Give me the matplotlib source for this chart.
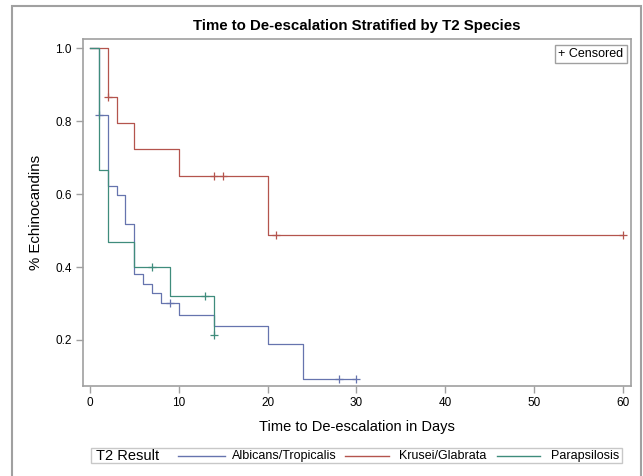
import numpy as np
import matplotlib
matplotlib.use('Agg')
import matplotlib.pyplot as plt
from matplotlib.patches import Rectangle
from matplotlib.lines import Line2D

plt.rcParams['font.family'] = ['Liberation Sans', 'DejaVu Sans']

# --- data ---
groups = ['Albicans/Tropicalis', 'Krusei/Glabrata', 'Parapsilosis']
colors = ['#6674ae', '#b4544d', '#3f8c7c']

alb_t = [0, 1, 2, 3, 4, 5, 6, 7, 8, 10, 14, 20, 24, 30]
alb_s = [1.0, 0.818, 0.623, 0.598, 0.518, 0.381, 0.354, 0.328, 0.301, 0.269, 0.237, 0.189, 0.094, 0.094]
alb_ct = [1, 9, 28, 30]
alb_cs = [0.818, 0.301, 0.094, 0.094]

kru_t = [0, 2, 3, 5, 10, 20, 60]
kru_s = [1.0, 0.867, 0.794, 0.723, 0.651, 0.487, 0.487]
kru_ct = [2, 14, 15, 21, 60]
kru_cs = [0.867, 0.651, 0.651, 0.487, 0.487]

par_t = [0, 1, 2, 5, 9, 14]
par_s = [1.0, 0.666, 0.468, 0.400, 0.320, 0.213]
par_ct = [7, 13, 14]
par_cs = [0.400, 0.320, 0.213]

xticks = [0, 10, 20, 30, 40, 50, 60]
yticks = [0.2, 0.4, 0.6, 0.8, 1.0]

frame = '#a0a0a0'

fig = plt.figure(figsize=(6.43, 4.76), dpi=100)
ax = fig.add_axes([0.1286, 0.1901, 0.8523, 0.7273])

curves = [(alb_t, alb_s, alb_ct, alb_cs), (kru_t, kru_s, kru_ct, kru_cs), (par_t, par_s, par_ct, par_cs)]
for (t, s, ct, cs), c in zip(curves, colors):
    ax.step(t, s, where='post', color=c, lw=0.9)
    ax.plot(ct, cs, ls='none', marker='+', ms=6, mew=0.9, color=c)

ax.set_xlim(-0.82, 60.9)
ax.set_ylim(0.075, 1.025)
ax.set_xticks(xticks)
ax.set_yticks(yticks)
ax.set_yticklabels(['%.1f' % v for v in yticks])
ax.tick_params(direction='out', length=5, width=1, color=frame, labelsize=8.5, pad=3)
for sp in ax.spines.values():
    sp.set_color(frame)
    sp.set_linewidth(1.2)

ax.set_xlabel('Time to De-escalation in Days', fontsize=10.5, labelpad=8)
ax.set_ylabel('% Echinocandins', fontsize=10.8, labelpad=9)
fig.text(0.555, 0.946, 'Time to De-escalation Stratified by T2 Species',
         ha='center', va='center', fontsize=10.8, fontweight='bold')

# censored key inside the plot
ax.text(0.987, 0.975, '+ Censored', transform=ax.transAxes, ha='right', va='top',
        fontsize=9, bbox=dict(boxstyle='square,pad=0.25', fc='white', ec=frame, lw=1))

# outer border
fig.patches.append(Rectangle((12 / 643, -0.05), 629 / 643, 1 - 6 / 476 + 0.05,
                             transform=fig.transFigure, fill=False, ec=frame, lw=1.5,
                             clip_on=False))

# bottom legend
W, H = 643.0, 476.0
fig.patches.append(Rectangle((90.7 / W, 1 - 462.7 / H), 531 / W, 14.4 / H,
                             transform=fig.transFigure, fill=False, ec='#c8c8c8', lw=1))
ly = 1 - 456 / H
fig.text(96 / W, ly, 'T2 Result', fontsize=10.5, va='center', ha='left')
seg = [(178, 225, 232), (345, 389, 399), (497, 540, 551)]
for (x0, x1, xt), c, g in zip(seg, colors, groups):
    fig.lines.append(Line2D([x0 / W, x1 / W], [ly, ly], transform=fig.transFigure, color=c, lw=1))
    fig.text(xt / W, ly, g, fontsize=9, va='center', ha='left')

plt.savefig('out.png', dpi=100)
